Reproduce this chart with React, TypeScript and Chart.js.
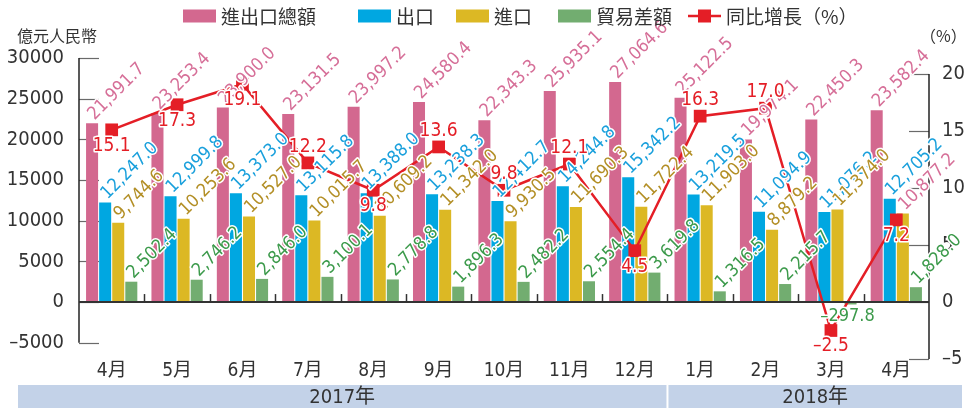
import React, { useEffect, useRef } from 'react';
import { Chart, registerables } from 'chart.js';

Chart.register(...registerables);

// ---------------- data ----------------
const months = ['4月', '5月', '6月', '7月', '8月', '9月', '10月', '11月', '12月', '1月', '2月', '3月', '4月'];
const yearGroups = ['2017年', '2018年'];
const yearGroupCounts = [9, 4];
const seriesNames = ['進出口總額', '出口', '進口', '貿易差額', '同比增長（%）'];
const totalTrade = [21991.7, 23253.4, 23900.0, 23131.5, 23997.2, 24580.4, 22343.3, 25935.1, 27064.6, 25122.5, 19974.1, 22450.3, 23582.4];
const exportValues = [12247.0, 12999.8, 13373.0, 13115.8, 13388.0, 13238.3, 12412.7, 14244.8, 15342.2, 13219.5, 11094.9, 11076.2, 12705.2];
const importValues = [9744.6, 10253.6, 10527.0, 10015.7, 10609.2, 11342.0, 9930.5, 11690.3, 11722.4, 11903.0, 8879.2, 11374.0, 10877.2];
const balanceValues = [2502.4, 2746.2, 2846.0, 3100.1, 2778.8, 1896.3, 2482.2, 2554.4, 3619.8, 1316.5, 2215.7, -297.8, 1828.0];
const growthValues = [15.1, 17.3, 19.1, 12.2, 9.8, 13.6, 9.8, 12.1, 4.5, 16.3, 17.0, -2.5, 7.2];
const growthLabelAbove = [false, false, false, true, false, true, true, true, false, true, true, false, false];
const leftTicks = [-5000, 0, 5000, 10000, 15000, 20000, 25000, 30000];
const rightTicks = [-5, 0, 5, 10, 15, 20];
const leftAxisTitle = '億元人民幣';
const rightAxisTitle = '（%）';

// ---------------- styles ----------------
const PINK = '#d3688f';
const BLUE = '#00a7e1';
const YELLOW = '#dcb824';
const GREEN = '#72ad70';
const RED = '#e41e26';
const BAR_COLORS = [PINK, BLUE, YELLOW, GREEN];
const LABEL_COLORS = ['#d66f98', '#1aa0dc', '#b38f26', '#3c9a4b'];
const TEXT = '#333333';
const BAND = '#c3d2e8';
const NARROW = '"Liberation Sans Narrow", "Arial Narrow", "DejaVu Sans Condensed", "Noto Sans CJK TC", sans-serif';
const CJK = '"Noto Sans CJK TC", "Noto Sans CJK SC", sans-serif';

const fmt = (v: number, digits = 1) => {
  const s = Math.abs(v).toLocaleString('en-US', { minimumFractionDigits: digits, maximumFractionDigits: digits });
  return v < 0 ? '–' + s : s;
};
const tickFmt = (v: number) => (v < 0 ? '–' + Math.abs(v) : String(v));

// label colour quirk of the reference (last 進口 label in pink)
const labelColorFor = (ds: number, i: number) => (ds === 2 && i === 12 ? LABEL_COLORS[0] : LABEL_COLORS[ds]);

function y0Of(chart: any) {
  return chart.scales.y.getPixelForValue(0);
}

const axesPlugin = {
  id: 'customAxes',
  beforeDatasetsDraw(chart: any) {
    const { ctx, chartArea, scales } = chart;
    const y = scales.y;
    const y1 = scales.y1;
    ctx.save();
    ctx.strokeStyle = '#6a6a6a';
    ctx.lineWidth = 1.2;
    leftTicks.forEach((v) => {
      const py = Math.round(y.getPixelForValue(v)) + 0.5;
      ctx.beginPath();
      ctx.moveTo(chartArea.left, py);
      ctx.lineTo(chartArea.left + 20, py);
      ctx.stroke();
    });
    rightTicks.forEach((v) => {
      const py = Math.round(y1.getPixelForValue(v)) + 0.5;
      ctx.beginPath();
      ctx.moveTo(chartArea.right - 20, py);
      ctx.lineTo(chartArea.right, py);
      ctx.stroke();
    });
    ctx.strokeStyle = '#222';
    ctx.lineWidth = 1.5;
    ctx.beginPath();
    ctx.moveTo(chartArea.left, y.getPixelForValue(leftTicks[leftTicks.length - 1]));
    ctx.lineTo(chartArea.left, y.getPixelForValue(leftTicks[0]));
    ctx.stroke();
    ctx.beginPath();
    ctx.moveTo(chartArea.right, y1.getPixelForValue(rightTicks[rightTicks.length - 1]));
    ctx.lineTo(chartArea.right, y1.getPixelForValue(rightTicks[0]));
    ctx.stroke();
    ctx.restore();
  },
  afterDatasetsDraw(chart: any) {
    const { ctx, chartArea, scales } = chart;
    const x = scales.x;
    const y0 = y0Of(chart);
    ctx.save();
    ctx.strokeStyle = '#333';
    ctx.lineWidth = 2;
    ctx.beginPath();
    ctx.moveTo(chartArea.left, y0);
    ctx.lineTo(chartArea.right, y0);
    ctx.stroke();
    ctx.lineWidth = 1.5;
    for (let i = 1; i < months.length; i++) {
      const bx = Math.round((x.getPixelForTick(i - 1) + x.getPixelForTick(i)) / 2) + 0.5;
      ctx.beginPath();
      ctx.moveTo(bx, y0);
      ctx.lineTo(bx, y0 - 8);
      ctx.stroke();
    }
    ctx.restore();
  },
};

const labelsPlugin = {
  id: 'valueLabels',
  afterDatasetsDraw(chart: any) {
    const { ctx } = chart;
    ctx.save();
    ctx.lineJoin = 'round';
    ctx.strokeStyle = '#ffffff';
    ctx.lineWidth = 3;
    for (let ds = 0; ds < 4; ds++) {
      const meta = chart.getDatasetMeta(ds + 1);
      const values = chart.data.datasets[ds + 1].data as number[];
      meta.data.forEach((el: any, i: number) => {
        const v = values[i];
        const text = fmt(v);
        ctx.fillStyle = labelColorFor(ds, i);
        ctx.font = `18px ${NARROW}`;
        if (v >= 0) {
          ctx.save();
          ctx.translate(el.x - 1, el.y - 6);
          ctx.rotate(-Math.PI / 4);
          ctx.textAlign = 'left';
          ctx.textBaseline = 'middle';
          ctx.strokeText(text, 0, 0);
          ctx.fillText(text, 0, 0);
          ctx.restore();
        } else {
          ctx.textAlign = 'center';
          ctx.textBaseline = 'middle';
          ctx.strokeText(text, el.x - 3, el.y + 12);
          ctx.fillText(text, el.x - 3, el.y + 12);
        }
      });
    }
    const lmeta = chart.getDatasetMeta(0);
    ctx.font = `19px ${NARROW}`;
    ctx.textAlign = 'center';
    ctx.textBaseline = 'middle';
    ctx.fillStyle = RED;
    lmeta.data.forEach((el: any, i: number) => {
      const text = fmt(growthValues[i]);
      const ty = el.y + (growthLabelAbove[i] ? -16 : 16);
      ctx.strokeText(text, el.x, ty);
      ctx.fillText(text, el.x, ty);
    });
    ctx.restore();
  },
};

const decorPlugin = {
  id: 'decor',
  afterDraw(chart: any) {
    const { ctx, scales } = chart;
    const x = scales.x;
    ctx.save();
    const legendX = [183, 358, 456, 558, 688];
    const boxW = 33;
    const boxH = 13;
    const ly = 16;
    ctx.font = `19px ${CJK}`;
    ctx.textBaseline = 'middle';
    ctx.textAlign = 'left';
    seriesNames.forEach((name, k) => {
      const lx = legendX[k];
      if (k < 4) {
        ctx.fillStyle = BAR_COLORS[k];
        ctx.fillRect(lx, ly - boxH / 2, boxW, boxH);
      } else {
        ctx.strokeStyle = RED;
        ctx.lineWidth = 2.5;
        ctx.beginPath();
        ctx.moveTo(lx, ly);
        ctx.lineTo(lx + boxW, ly);
        ctx.stroke();
        ctx.fillStyle = RED;
        ctx.fillRect(lx + boxW / 2 - 6.5, ly - 6.5, 13, 13);
      }
      ctx.fillStyle = TEXT;
      ctx.fillText(name, lx + boxW + 5, ly + 1);
    });
    ctx.font = `16px ${CJK}`;
    ctx.fillStyle = TEXT;
    ctx.textAlign = 'left';
    ctx.fillText(leftAxisTitle, 17, 36);
    ctx.fillText(rightAxisTitle, 920, 36);
    const bandTop = 385;
    const bandBottom = 408;
    const bandLeft = 18;
    const bandRight = 962;
    let start = 0;
    yearGroups.forEach((g, k) => {
      const end = start + yearGroupCounts[k] - 1;
      const left = k === 0 ? bandLeft : (x.getPixelForTick(start - 1) + x.getPixelForTick(start)) / 2 + 1;
      const right = k === yearGroups.length - 1 ? bandRight : (x.getPixelForTick(end) + x.getPixelForTick(end + 1)) / 2 - 1;
      ctx.fillStyle = BAND;
      ctx.fillRect(left, bandTop, right - left, bandBottom - bandTop);
      ctx.fillStyle = TEXT;
      ctx.font = `20px ${NARROW}`;
      ctx.textAlign = 'center';
      ctx.textBaseline = 'middle';
      ctx.fillText(g, (left + right) / 2, (bandTop + bandBottom) / 2 + 1);
      start = end + 1;
    });
    ctx.restore();
  },
};

export default function App() {
  const ref = useRef<HTMLCanvasElement>(null);
  useEffect(() => {
    const canvas = ref.current;
    if (!canvas) return;
    const tickFont = { family: NARROW, size: 20 };
    const chart = new Chart(canvas, {
      type: 'bar',
      data: {
        labels: months,
        datasets: [
          {
            type: 'line',
            label: seriesNames[4],
            data: growthValues,
            yAxisID: 'y1',
            borderColor: RED,
            backgroundColor: RED,
            borderWidth: 2.5,
            pointStyle: 'rect',
            pointRadius: 9,
            pointHoverRadius: 9,
            pointBorderWidth: 0,
            pointBackgroundColor: RED,
            tension: 0,
            order: 0,
          } as any,
          { label: seriesNames[0], data: totalTrade, backgroundColor: PINK, yAxisID: 'y', order: 1 },
          { label: seriesNames[1], data: exportValues, backgroundColor: BLUE, yAxisID: 'y', order: 1 },
          { label: seriesNames[2], data: importValues, backgroundColor: YELLOW, yAxisID: 'y', order: 1 },
          { label: seriesNames[3], data: balanceValues, backgroundColor: GREEN, yAxisID: 'y', order: 1 },
        ],
      },
      options: {
        animation: false,
        responsive: false,
        maintainAspectRatio: false,
        events: [],
        layout: { padding: { top: 58, left: 0, right: 0, bottom: 0 } },
        plugins: { legend: { display: false }, tooltip: { enabled: false } },
        datasets: { bar: { categoryPercentage: 0.8, barPercentage: 0.92 } },
        scales: {
          x: {
            grid: { display: false, drawTicks: false },
            border: { display: false },
            ticks: { font: { family: NARROW, size: 19 }, color: TEXT, padding: 1, maxRotation: 0, autoSkip: false },
            afterFit: (s: any) => {
              s.height = 50;
            },
          },
          y: {
            position: 'left',
            min: -7000,
            max: 30000,
            grid: { display: false, drawTicks: false },
            border: { display: false },
            ticks: { font: tickFont, color: TEXT, padding: 15, callback: (v: any) => tickFmt(Number(v)) },
            afterBuildTicks: (s: any) => {
              s.ticks = leftTicks.map((v) => ({ value: v }));
            },
            afterFit: (s: any) => {
              s.width = 79;
            },
          },
          y1: {
            position: 'right',
            min: -5,
            max: 21.4,
            grid: { display: false, drawTicks: false },
            border: { display: false },
            ticks: { font: tickFont, color: TEXT, padding: 13, callback: (v: any) => tickFmt(Number(v)) },
            afterBuildTicks: (s: any) => {
              s.ticks = rightTicks.map((v) => ({ value: v }));
            },
            afterFit: (s: any) => {
              s.width = 43;
            },
          },
        },
      } as any,
      plugins: [axesPlugin, labelsPlugin, decorPlugin],
    });
    return () => chart.destroy();
  }, []);
  return (
    <div style={{ position: 'fixed', left: 0, top: 0, width: 972, height: 409, background: '#fff' }}>
      <canvas ref={ref} width={972} height={409} style={{ width: 972, height: 409, display: 'block' }} />
    </div>
  );
}
